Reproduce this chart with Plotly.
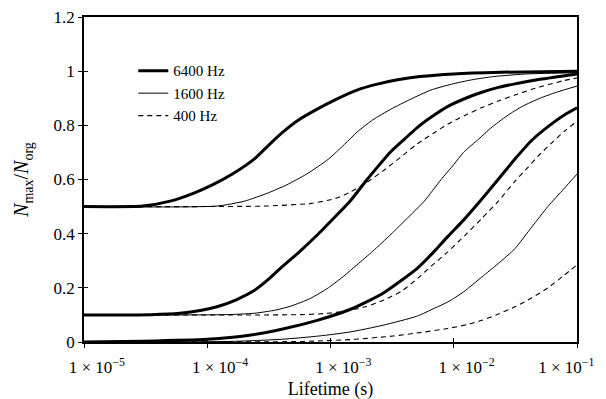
import plotly.graph_objects as go

# ---- data (t in seconds, N = Nmax/Norg) ----
# curves starting at 0.5
t_6400_a = [1e-5, 3e-5, 5e-5, 7.8e-5, 1.1e-4, 1.6e-4, 2.4e-4, 3.2e-4, 4.1e-4, 5.5e-4, 7.8e-4,
            1.1e-3, 1.64e-3, 2.4e-3, 3.5e-3, 5.3e-3, 1e-2, 2.4e-2, 1e-1]
n_6400_a = [0.5, 0.502, 0.52, 0.55, 0.58, 0.62, 0.675, 0.73, 0.775, 0.82, 0.86,
            0.895, 0.93, 0.952, 0.968, 0.98, 0.99, 0.996, 1.0]

t_1600_a = [1e-5, 1.2e-4, 2e-4, 3.1e-4, 4.4e-4, 6.4e-4, 9.6e-4, 1.3e-3, 1.64e-3, 2.2e-3, 3.1e-3,
            4.4e-3, 6.5e-3, 9.6e-3, 1.4e-2, 2.1e-2, 4e-2, 1e-1]
n_1600_a = [0.5, 0.502, 0.52, 0.55, 0.58, 0.62, 0.675, 0.73, 0.775, 0.82, 0.86,
            0.895, 0.93, 0.952, 0.968, 0.98, 0.99, 0.994]

t_400_a = [1e-5, 3e-4, 7e-4, 1.1e-3, 1.44e-3, 1.98e-3, 2.67e-3, 3.66e-3, 5e-3, 6.8e-3, 9e-3,
           1.25e-2, 1.7e-2, 2.3e-2, 3.14e-2, 4.3e-2, 5.8e-2, 7.8e-2, 1e-1]
n_400_a = [0.5, 0.502, 0.512, 0.53, 0.553, 0.59, 0.632, 0.68, 0.73, 0.77, 0.805,
           0.838, 0.866, 0.89, 0.912, 0.933, 0.95, 0.965, 0.975]

# curves starting at 0.1
t_6400_b = [1e-5, 3.5e-5, 6e-5, 9e-5, 1.2e-4, 1.7e-4, 2.4e-4, 3.2e-4, 4.1e-4, 5.5e-4, 7.8e-4,
            1.05e-3, 1.44e-3, 1.98e-3, 2.5e-3, 3.04e-3, 4e-3, 5e-3, 6.8e-3, 8.97e-3, 1.25e-2,
            1.69e-2, 2.3e-2, 3.14e-2, 5e-2, 1e-1]
n_6400_b = [0.1, 0.101, 0.106, 0.117, 0.13, 0.155, 0.19, 0.235, 0.28, 0.33, 0.395,
            0.455, 0.52, 0.60, 0.655, 0.70, 0.75, 0.79, 0.835, 0.87, 0.90,
            0.922, 0.94, 0.953, 0.97, 0.99]

t_1600_b = [1e-5, 1.4e-4, 2.4e-4, 3.6e-4, 4.8e-4, 6.8e-4, 9.6e-4, 1.28e-3, 1.64e-3, 2.2e-3, 3.1e-3,
            4.2e-3, 5.76e-3, 7.9e-3, 1e-2, 1.2e-2, 1.6e-2, 2e-2, 2.7e-2, 3.6e-2, 5e-2, 6.8e-2, 1e-1]
n_1600_b = [0.1, 0.101, 0.106, 0.118, 0.133, 0.16, 0.2, 0.243, 0.285, 0.335, 0.398,
            0.457, 0.52, 0.60, 0.655, 0.70, 0.75, 0.79, 0.835, 0.87, 0.90, 0.922, 0.945]

t_400_b = [1e-5, 5.6e-4, 9.6e-4, 1.44e-3, 1.92e-3, 2.72e-3, 3.84e-3, 5.1e-3, 6.56e-3, 8.8e-3,
           1.24e-2, 1.68e-2, 2.3e-2, 3.16e-2, 4e-2, 4.8e-2, 6.4e-2, 8e-2, 1e-1]
n_400_b = [0.1, 0.101, 0.106, 0.117, 0.13, 0.155, 0.19, 0.235, 0.28, 0.33,
           0.395, 0.455, 0.52, 0.595, 0.645, 0.685, 0.74, 0.78, 0.815]

# curves starting at 0
t_6400_c = [1e-5, 3e-5, 1e-4, 2.2e-4, 4.1e-4, 7.8e-4, 1.44e-3, 2e-3, 2.67e-3, 3.7e-3, 5e-3,
            6.8e-3, 8.97e-3, 1.2e-2, 1.6e-2, 2.29e-2, 3.2e-2, 4.3e-2, 6e-2, 8e-2, 1e-1]
n_6400_c = [0.0, 0.003, 0.01, 0.025, 0.048, 0.08, 0.12, 0.15, 0.18, 0.225, 0.27,
            0.33, 0.39, 0.45, 0.515, 0.60, 0.68, 0.745, 0.80, 0.84, 0.865]

t_1600_c = [1e-5, 1.5e-4, 4e-4, 8e-4, 1.44e-3, 2.67e-3, 5e-3, 7e-3, 8.97e-3, 1.2e-2, 1.69e-2,
            2.3e-2, 3.14e-2, 4.3e-2, 5.8e-2, 7.8e-2, 1e-1]
n_1600_c = [0.0, 0.002, 0.01, 0.022, 0.037, 0.062, 0.095, 0.125, 0.148, 0.185, 0.24,
            0.29, 0.345, 0.425, 0.50, 0.565, 0.62]

t_400_c = [1e-5, 6e-4, 1.6e-3, 3.2e-3, 5e-3, 8.97e-3, 1.3e-2, 1.69e-2, 2.3e-2, 3.14e-2,
           4.3e-2, 5.8e-2, 7.8e-2, 1e-1]
n_400_c = [0.0, 0.002, 0.01, 0.022, 0.033, 0.05, 0.065, 0.08, 0.103, 0.13,
           0.163, 0.20, 0.245, 0.285]

NB = "\u00a0"
x_tickvals = [1e-5, 1e-4, 1e-3, 1e-2, 1e-1]
x_ticktext = [NB * 6 + "1 × 10<sup>−5</sup>", NB * 6 + "1 × 10<sup>−4</sup>",
              NB * 6 + "1 × 10<sup>−3</sup>", NB * 6 + "1 × 10<sup>−2</sup>",
              "1 × 10<sup>−1</sup>" + NB * 5]
y_tickvals = [0, 0.2, 0.4, 0.6, 0.8, 1.0, 1.2]
y_ticktext = ["0", "0.2", "0.4", "0.6", "0.8", "1", "1.2"]

FONT = "Liberation Serif"
styles = {
    "6400 Hz": dict(color="black", width=3, dash="solid"),
    "1600 Hz": dict(color="black", width=1, dash="solid"),
    "400 Hz": dict(color="black", width=1.1, dash="5px,4px"),
}

groups = [
    ("6400 Hz", [(t_6400_a, n_6400_a), (t_6400_b, n_6400_b), (t_6400_c, n_6400_c)]),
    ("1600 Hz", [(t_1600_a, n_1600_a), (t_1600_b, n_1600_b), (t_1600_c, n_1600_c)]),
    ("400 Hz", [(t_400_a, n_400_a), (t_400_b, n_400_b), (t_400_c, n_400_c)]),
]

fig = go.Figure()
for name, curves in groups:
    for i, (t, n) in enumerate(curves):
        fig.add_trace(go.Scatter(
            x=t, y=n, mode="lines", name=name, legendgroup=name,
            showlegend=(i == 0), line=dict(shape="spline", smoothing=0.6, **styles[name]),
        ))

# invisible trace so the overlay axes (crossing ticks) render
fig.add_trace(go.Scatter(x=[1e-5], y=[0], xaxis="x2", yaxis="y2", mode="markers",
                         marker=dict(opacity=0), showlegend=False, hoverinfo="skip"))

# the page body adds an 8px offset, so margins are shifted to compensate
fig.update_layout(
    width=606, height=399,
    margin=dict(l=76, r=37, t=9, b=65),
    paper_bgcolor="white", plot_bgcolor="white",
    font=dict(family=FONT, size=16, color="black"),
    showlegend=True,
    legend=dict(x=0.1, y=0.885, xanchor="left", yanchor="top",
                bgcolor="rgba(0,0,0,0)", font=dict(size=15, family=FONT),
                tracegroupgap=0, itemwidth=30),
    xaxis=dict(type="log", range=[-5, -1], tickvals=x_tickvals, ticktext=x_ticktext,
               showgrid=False, zeroline=False, showline=True, linecolor="black", linewidth=1.5,
               mirror=True, ticks="outside", ticklen=4, tickwidth=1.2, tickcolor="black",
               tickfont=dict(size=17, family=FONT), automargin=False, ticklabelstandoff=5,
               ticklabeloverflow="allow",
               title=dict(text="Lifetime (s)", font=dict(size=18, family=FONT), standoff=6)),
    yaxis=dict(range=[0, 1.2], tickvals=y_tickvals, ticktext=y_ticktext,
               showgrid=False, zeroline=False, showline=True, linecolor="black", linewidth=1.8,
               mirror=True, ticks="outside", ticklen=4, tickwidth=1.2, tickcolor="black",
               tickfont=dict(size=17, family=FONT), automargin=False,
               ticklabeloverflow="allow",
               title=dict(text="<i>N</i><sub>max</sub>/<i>N</i><sub>org</sub>",
                          font=dict(size=20, family=FONT), standoff=19)),
    xaxis2=dict(type="log", range=[-5, -1], overlaying="x", tickvals=x_tickvals,
                showticklabels=False, showgrid=False, zeroline=False, showline=False,
                ticks="inside", ticklen=4, tickwidth=1.2, tickcolor="black", side="bottom",
                automargin=False),
    yaxis2=dict(range=[0, 1.2], overlaying="y", tickvals=y_tickvals,
                showticklabels=False, showgrid=False, zeroline=False, showline=False,
                ticks="inside", ticklen=4, tickwidth=1.2, tickcolor="black", side="left",
                automargin=False),
)

fig.write_html("out.html")
